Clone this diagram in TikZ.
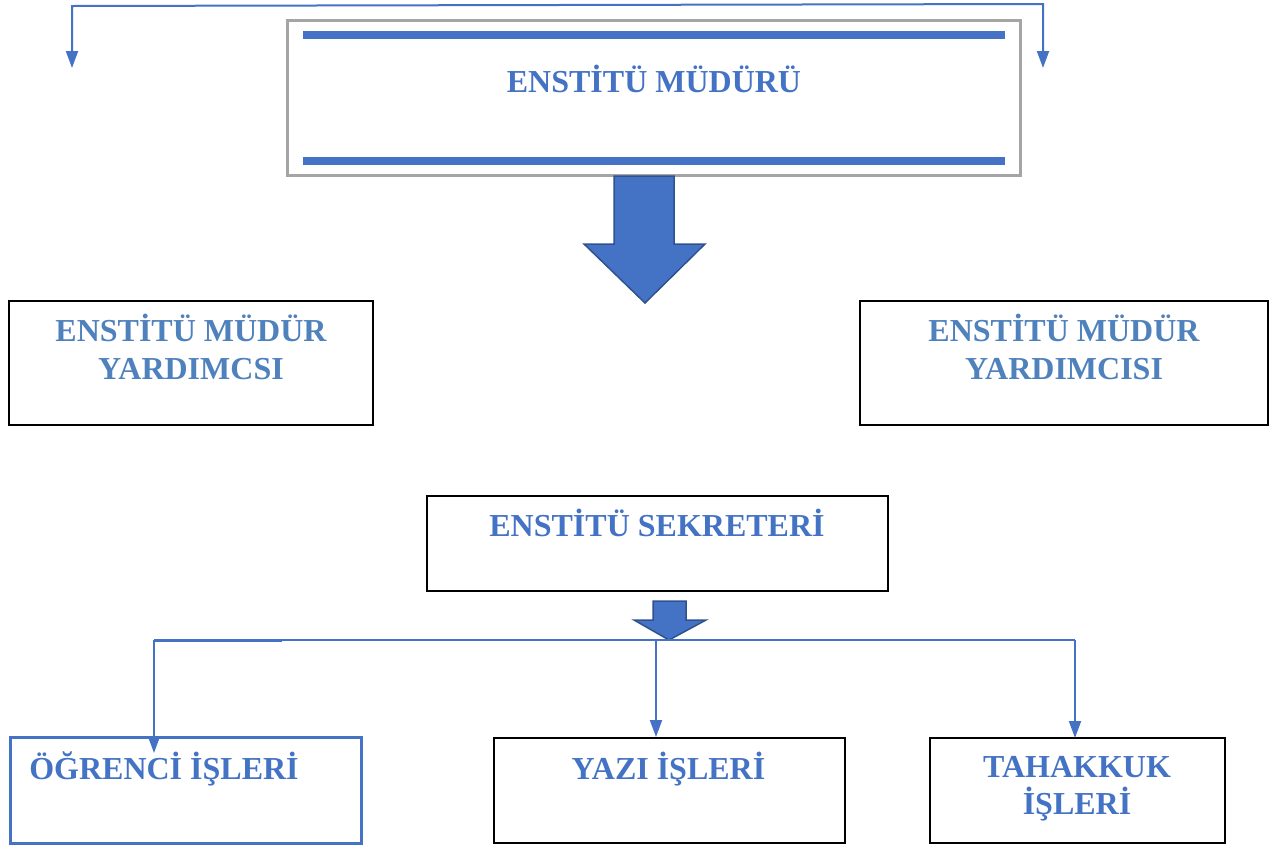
\documentclass[tikz,border=0pt]{standalone}
\usepackage{fontspec}
\setmainfont{Liberation Serif}
\usetikzlibrary{arrows.meta}
\definecolor{tblue}{HTML}{4472C4}
\definecolor{tblue2}{HTML}{4F81BD}
\definecolor{dblue}{HTML}{2F528F}
\definecolor{bgray}{HTML}{A5A5A5}
\tikzset{
  box/.style={draw=black, line width=2pt, inner sep=0pt},
  lbl/.style={text=tblue, font=\fontsize{32}{38}\selectfont\bfseries, anchor=base, inner sep=0pt},
  lbl2/.style={lbl, text=tblue2},
  conn/.style={draw=tblue, line width=2pt},
  arr/.style={conn, -{Triangle[width=12pt,length=17pt]}},
  bigarrow/.style={fill=tblue, draw=dblue, line width=1.5pt, line join=miter},
  bar/.style={fill=tblue, draw=none}
}
\begin{document}
\begin{tikzpicture}[x=1pt,y=-1pt]
\useasboundingbox (0,0) rectangle (1275,847);
% top box
\node[draw=bgray, line width=3pt, minimum width=733pt, minimum height=155pt, inner sep=0pt] (mud) at (654,98) {};
\fill[bar] (303,31) rectangle (1005,39);
\fill[bar] (303,157) rectangle (1005,165);
\node[lbl] (mudt) at (654,92) {ENSTİTÜ MÜDÜRÜ};
% top connector
\coordinate (tla) at (72,68);
\coordinate (tlb) at (72,6);
\coordinate (tra) at (1043,4);
\coordinate (trb) at (1043,68);
\draw[conn, {Triangle[width=12pt,length=17pt]}-{Triangle[width=12pt,length=17pt]}] (tla) -- (tlb) -- (tra) -- (trb);
% big arrow
\draw[bigarrow] (614,176) -- (674,176) -- (674,244) -- (705,244) -- (645,303) -- (584,244) -- (614,244) -- cycle;
% assistant boxes
\node[box, minimum width=364pt, minimum height=124pt] (yl) at (190.5,362.5) {};
\node[lbl2] (ylt1) at (191,341.5) {ENSTİTÜ MÜDÜR};
\node[lbl2] (ylt2) at (191,379.5) {YARDIMCSI};
\node[box, minimum width=408pt, minimum height=124pt] (yr) at (1063.5,362.5) {};
\node[lbl2] (yrt1) at (1064,341.5) {ENSTİTÜ MÜDÜR};
\node[lbl2] (yrt2) at (1064,379.5) {YARDIMCISI};
% secretary
\node[box, minimum width=461pt, minimum height=95pt] (sek) at (657,543.5) {};
\node[lbl] (sekt) at (657,536) {ENSTİTÜ SEKRETERİ};
% small arrow
\draw[bigarrow] (653,601) -- (686,601) -- (686,620) -- (706,620) -- (669,640) -- (634,620) -- (653,620) -- cycle;
% distribution line
\coordinate (hl) at (154,640);
\coordinate (hlt) at (282,640);
\coordinate (hm) at (656,640);
\coordinate (hr) at (1075,640);
\draw[conn] (hl) -- (hr);
\draw[conn, line width=3pt] (hl) -- (hlt);
% bottom boxes
\node[draw=tblue, line width=3pt, inner sep=0pt, minimum width=351pt, minimum height=106pt] (ogr) at (186,790.5) {};
\node[lbl] (ogrt) at (164,779) {ÖĞRENCİ İŞLERİ};
\node[box, minimum width=351pt, minimum height=105pt] (yaz) at (669,790.5) {};
\node[lbl] (yazt) at (668.5,779) {YAZI İŞLERİ};
\node[box, minimum width=295pt, minimum height=105pt] (tah) at (1077,790.5) {};
\node[lbl] (taht1) at (1077,777.5) {TAHAKKUK};
\node[lbl] (taht2) at (1077,814) {İŞLERİ};
% arrows down
\coordinate (al) at (154,753);
\coordinate (am) at (656,737);
\coordinate (ar) at (1075,738);
\draw[arr] (hl) -- (al);
\draw[arr] (hm) -- (am);
\draw[arr] (hr) -- (ar);
\end{tikzpicture}
\end{document}
